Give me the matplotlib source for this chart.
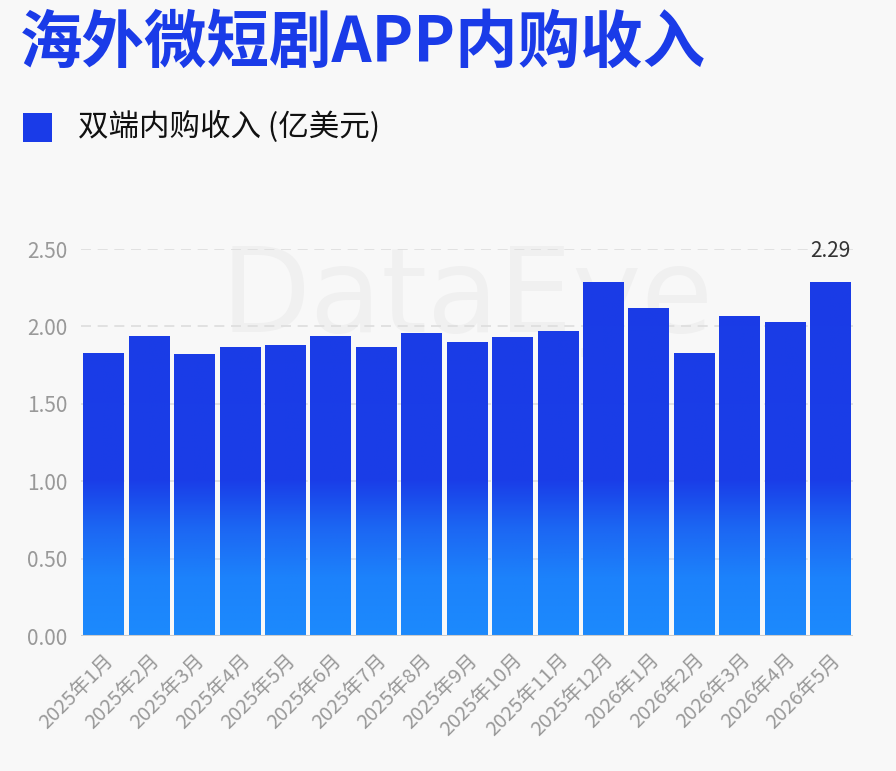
import numpy as np
import matplotlib
matplotlib.use('Agg')
import matplotlib.pyplot as plt
from matplotlib.colors import LinearSegmentedColormap
from matplotlib import transforms

plt.rcParams['font.family'] = ['Noto Sans CJK SC', 'DejaVu Sans']

# 数据
months = ['2025年1月', '2025年2月', '2025年3月', '2025年4月', '2025年5月', '2025年6月',
          '2025年7月', '2025年8月', '2025年9月', '2025年10月', '2025年11月', '2025年12月',
          '2026年1月', '2026年2月', '2026年3月', '2026年4月', '2026年5月']
revenue = [1.83, 1.94, 1.82, 1.87, 1.88, 1.94, 1.87, 1.96, 1.90, 1.93, 1.97, 2.29,
           2.12, 1.83, 2.07, 2.03, 2.29]
y_ticks = [0.0, 0.5, 1.0, 1.5, 2.0, 2.5]

bg = '#f8f8f8'
dark_blue = '#1a3be8'

fig = plt.figure(figsize=(8.96, 7.71), dpi=100, facecolor=bg)
ax = fig.add_axes([0.0904, 0.175, 0.862, 0.502], facecolor=bg)

x = np.arange(len(months))

# 水印
ax.text(0.5, 0.87, 'DataEye', transform=ax.transAxes, ha='center', va='center',
        fontsize=84, color='#f0f0f0', family='DejaVu Sans', zorder=0)

# 网格线
for t in y_ticks[1:]:
    ax.axhline(t, color='#dddddd', linewidth=1.2, linestyle=(0, (6, 4)), zorder=1)
ax.axhline(0, color='#cccccc', linewidth=1.5, zorder=4)

# 渐变柱
cmap = LinearSegmentedColormap.from_list(
    'grad', [(0.0, '#1c8afd'), (0.15, '#1c82fb'), (0.28, '#1c66f3'),
             (0.40, '#1a3ee8'), (1.0, '#1a3be6')])
grad = np.linspace(0, 1, 256).reshape(-1, 1)
bars = ax.bar(x, revenue, width=0.9, color=dark_blue, edgecolor='none', zorder=2)
for b in bars:
    im = ax.imshow(grad, cmap=cmap, origin='lower', aspect='auto',
                   extent=(b.get_x(), b.get_x() + b.get_width(), 0, 2.5), zorder=3)
    im.set_clip_path(b)
ax.set_xlim(-0.5, len(months) - 0.5)
ax.set_ylim(0, 2.5)

# 数值标签
ax.text(x[-1], revenue[-1] + 0.2, f'{revenue[-1]:.2f}', ha='center', va='center',
        fontsize=15, color='#333333', zorder=5)

ax.set_yticks(y_ticks)
ax.set_yticklabels([f'{t:.2f}' for t in y_ticks], fontsize=15, color='#999999')
ax.set_xticks(x)
ax.set_xticklabels(months, rotation=45, ha='right', va='top', rotation_mode='anchor',
                   fontsize=14.5, color='#999999')
shift = transforms.ScaledTranslation(10 / 100, 0, fig.dpi_scale_trans)
for lbl in ax.get_xticklabels():
    lbl.set_transform(lbl.get_transform() + shift)
ax.tick_params(axis='both', length=0)
ax.tick_params(axis='y', pad=10)
ax.tick_params(axis='x', pad=10)
for s in ax.spines.values():
    s.set_visible(False)

# 标题和图例
fig.text(0.022, 0.944, '海外微短剧APP内购收入', fontsize=45, fontweight='bold',
         color=dark_blue, ha='left', va='center')
fig.patches.append(plt.Rectangle((0.0257, 0.8158), 0.0324, 0.0376, transform=fig.transFigure,
                                 facecolor=dark_blue, edgecolor='none'))
fig.text(0.087, 0.835, '双端内购收入 (亿美元)', fontsize=22, color='#111111',
         ha='left', va='center')

fig.savefig('out.png', dpi=100, facecolor=bg)
